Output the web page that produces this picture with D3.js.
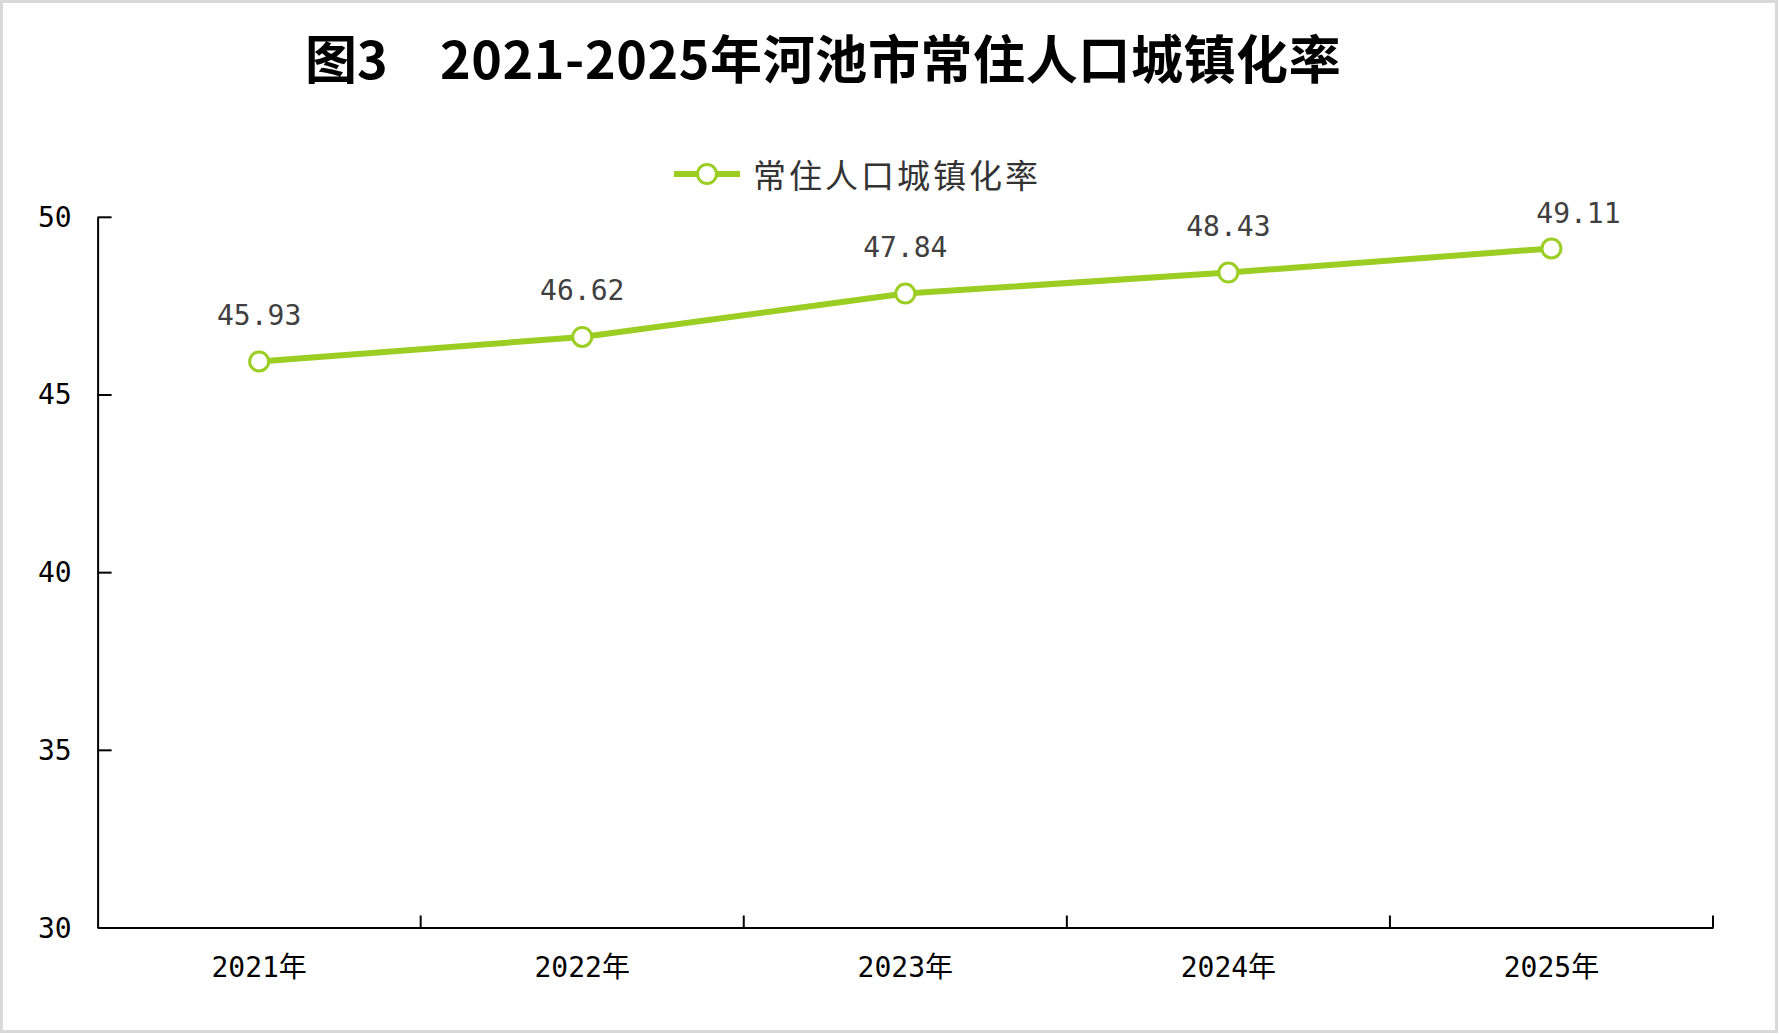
<!DOCTYPE html>
<html>
<head>
<meta charset="utf-8">
<script src="https://cdn.jsdelivr.net/npm/d3@7/dist/d3.min.js"></script>
<style>
  html, body { margin: 0; padding: 0; background: #fff; }
  svg { display: block; }
</style>
</head>
<body>
<svg id="chart" width="1779" height="1034"></svg>
<script>
const titlePrefix = "图3";
const titleMain = "2021-2025年河池市常住人口城镇化率";
const seriesName = "常住人口城镇化率";
const categories = ["2021年", "2022年", "2023年", "2024年", "2025年"];
const values = [45.93, 46.62, 47.84, 48.43, 49.11];
const yTicks = [30, 35, 40, 45, 50];
const yDomain = [30, 50];

const W = 1779, H = 1034;
const margin = { left: 97.6, right: W - 1713, top: 216.8, bottom: H - 927.5 };
const green = "#9bcd23";
const numFont = "'DejaVu Sans Mono', 'Noto Sans CJK SC', sans-serif";
const cjkFont = "'Noto Sans CJK SC', sans-serif";

const svg = d3.select("#chart");
svg.append("rect").attr("x", 0).attr("y", 0).attr("width", W).attr("height", H).attr("fill", "#fff");
svg.append("rect").attr("x", 1.5).attr("y", 1.5).attr("width", W - 4).attr("height", H - 4)
  .attr("fill", "none").attr("stroke", "#d9d9d9").attr("stroke-width", 3);

// Title
svg.append("text").attr("x", 305).attr("y", 56).attr("dominant-baseline", "central")
  .attr("font-family", cjkFont).attr("font-weight", 700).attr("font-size", 52).attr("fill", "#000")
  .text(titlePrefix);
svg.append("text").attr("x", 440).attr("y", 56).attr("dominant-baseline", "central")
  .attr("font-family", cjkFont).attr("font-weight", 700).attr("font-size", 52).attr("fill", "#000")
  .attr("letter-spacing", 0.6)
  .text(titleMain);

// Legend
const lg = svg.append("g").attr("transform", "translate(707,174)");
lg.append("line").attr("x1", -33).attr("x2", 33).attr("y1", 0).attr("y2", 0)
  .attr("stroke", green).attr("stroke-width", 6);
lg.append("circle").attr("r", 9.5).attr("fill", "#fff").attr("stroke", green).attr("stroke-width", 3);
lg.append("text").attr("x", 46).attr("y", 0).attr("dominant-baseline", "central")
  .attr("font-family", cjkFont).attr("font-size", 33).attr("letter-spacing", 3).attr("fill", "#333")
  .text(seriesName);

// Scales
const x = d3.scaleBand().domain(categories).range([margin.left, W - margin.right]).padding(0);
const y = d3.scaleLinear().domain(yDomain).range([H - margin.bottom, margin.top]);

// Y axis
const yAxis = svg.append("g").attr("transform", `translate(${margin.left},0)`)
  .call(d3.axisLeft(y).tickValues(yTicks).tickSizeInner(-14).tickSizeOuter(0).tickPadding(26).tickFormat(d3.format("d")));
yAxis.select(".domain").attr("stroke", "#000").attr("stroke-width", 2);
yAxis.selectAll(".tick line").attr("stroke", "#000").attr("stroke-width", 2);
yAxis.selectAll(".tick text").attr("font-family", numFont).attr("font-size", 28).attr("fill", "#000")
  .attr("dy", null).attr("dominant-baseline", "central");

// X axis
const xAxis = svg.append("g").attr("transform", `translate(0,${H - margin.bottom})`)
  .call(d3.axisBottom(x).tickSize(0).tickSizeOuter(0).tickPadding(0));
xAxis.select(".domain").attr("stroke", "#000").attr("stroke-width", 2);
xAxis.selectAll(".tick text").attr("font-family", numFont).attr("font-size", 28).attr("fill", "#000")
  .attr("y", 40).attr("dy", null).attr("dominant-baseline", "central");
const boundaries = categories.slice(1).map(c => x(c)).concat([x.range()[1]]);
xAxis.selectAll("line.bt").data(boundaries).join("line").attr("class", "bt")
  .attr("x1", d => d).attr("x2", d => d).attr("y1", 0).attr("y2", -12)
  .attr("stroke", "#000").attr("stroke-width", 2);

// Line
const cx = (d, i) => x(categories[i]) + x.bandwidth() / 2;
const line = d3.line().x((d, i) => cx(d, i)).y(d => y(d));
svg.append("path").datum(values).attr("d", line).attr("fill", "none")
  .attr("stroke", green).attr("stroke-width", 6).attr("stroke-linejoin", "round");
svg.selectAll("circle.pt").data(values).join("circle").attr("class", "pt")
  .attr("cx", cx).attr("cy", d => y(d)).attr("r", 9.5)
  .attr("fill", "#fff").attr("stroke", green).attr("stroke-width", 3);

// Data labels
svg.selectAll("text.lbl").data(values).join("text").attr("class", "lbl")
  .each(function (d, i) {
    let lx = cx(d, i), ly = y(d) - 46;
    if (ly < margin.top - 2) { lx += 27; ly = y(d) - 35; }
    d3.select(this).attr("x", lx).attr("y", ly);
  })
  .attr("text-anchor", "middle").attr("dominant-baseline", "central")
  .attr("font-family", numFont).attr("font-size", 28).attr("fill", "#404040")
  .text(d => d.toFixed(2));
</script>
</body>
</html>
